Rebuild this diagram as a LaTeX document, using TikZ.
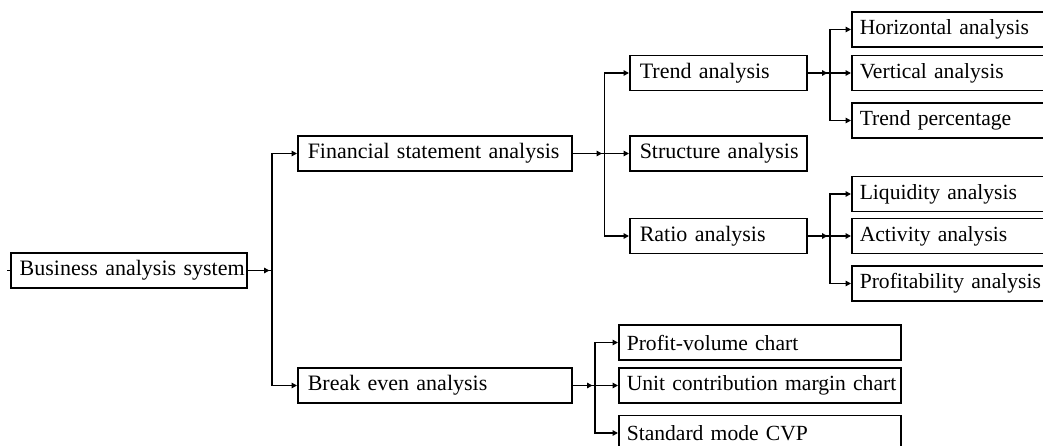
\documentclass[tikz,border=0pt]{standalone}
\usepackage{fontspec}
\setmainfont{Liberation Serif}
\usetikzlibrary{arrows.meta}

\begin{document}
\begin{tikzpicture}[x=1pt, y=-1pt,
  every node/.style={font=\fontsize{22pt}{24pt}\selectfont},
  box/.style={draw, line width=1.5pt, minimum height=35pt, inner xsep=10pt,
    inner ysep=0pt, align=left, anchor=west},
  rootw/.style={box, inner xsep=9pt, text width=218pt},
  midw/.style={box, text width=254pt},
  subw/.style={box, text width=157pt},
  leafw/.style={box, inner xsep=8pt, text width=194pt,
    font=\fontsize{21.6pt}{24pt}\selectfont},
  cvpw/.style={box, inner xsep=8pt, text width=266pt,
    font=\fontsize{21.6pt}{24pt}\selectfont},
  link/.style={line width=1.5pt},
  feed/.style={link, -{Triangle[length=5.5pt,width=5.5pt]}, shorten >=2.5pt},
  into/.style={link, -{Triangle[length=5.5pt,width=5.5pt]}}
]
\useasboundingbox (0,0) rectangle (1043,446);
\clip (0,0) rectangle (1043,446);

% boxes
\node[rootw] (root)   at (10,270.5)  {\mbox{Business analysis system}};
\node[midw]  (fin)    at (297,153.5) {\mbox{Financial statement analysis}};
\node[midw]  (brk)    at (297,385.5) {\mbox{Break even analysis}};
\node[subw]  (trend)  at (629,73)    {\mbox{Trend analysis}};
\node[subw]  (struct) at (629,153.5) {\mbox{Structure analysis}};
\node[subw]  (ratio)  at (629,236)   {\mbox{Ratio analysis}};
\node[leafw] (horiz)  at (851,29.5)  {\mbox{Horizontal analysis}};
\node[leafw] (vert)   at (851,73)    {\mbox{Vertical analysis}};
\node[leafw] (tpct)   at (851,120.5) {\mbox{Trend percentage}};
\node[leafw] (liq)    at (851,194)   {\mbox{Liquidity analysis}};
\node[leafw] (act)    at (851,236)   {\mbox{Activity analysis}};
\node[leafw] (prof)   at (851,283.5) {\mbox{Profitability analysis}};
\node[cvpw]  (pv)     at (618,342.5) {\mbox{Profit-volume chart}};
\node[cvpw]  (ucm)    at (618,385.5) {\mbox{Unit contribution margin chart}};
\node[cvpw]  (smc)    at (618,433)   {\mbox{Standard mode CVP}};

% bus points
\coordinate (b0) at (272,270.5);
\coordinate (b1) at (604.5,153.5);
\coordinate (b2) at (595,385.5);
\coordinate (b3) at (830,73);
\coordinate (b4) at (830,236);
\coordinate (stub) at (7,270.5);

% stub on the root
\draw[link] (root.west) -- (stub);

% root branch
\draw[link] (root.east) -- (b0);
\draw[feed] (root.east) -- (b0);
\draw[into] (b0) |- (fin.west);
\draw[into] (b0) |- (brk.west);

% financial statement branch
\draw[link] (fin.east) -- (b1);
\draw[feed] (fin.east) -- (b1);
\draw[into] (b1) |- (trend.west);
\draw[into] (b1) -- (struct.west);
\draw[into] (b1) |- (ratio.west);

% break even branch
\draw[link] (brk.east) -- (b2);
\draw[feed] (brk.east) -- (b2);
\draw[into] (b2) |- (pv.west);
\draw[into] (b2) -- (ucm.west);
\draw[into] (b2) |- (smc.west);

% trend branch
\draw[link] (trend.east) -- (b3);
\draw[feed] (trend.east) -- (b3);
\draw[into] (b3) |- (horiz.west);
\draw[into] (b3) -- (vert.west);
\draw[into] (b3) |- (tpct.west);

% ratio branch
\draw[link] (ratio.east) -- (b4);
\draw[feed] (ratio.east) -- (b4);
\draw[into] (b4) |- (liq.west);
\draw[into] (b4) -- (act.west);
\draw[into] (b4) |- (prof.west);
\end{tikzpicture}
\end{document}
